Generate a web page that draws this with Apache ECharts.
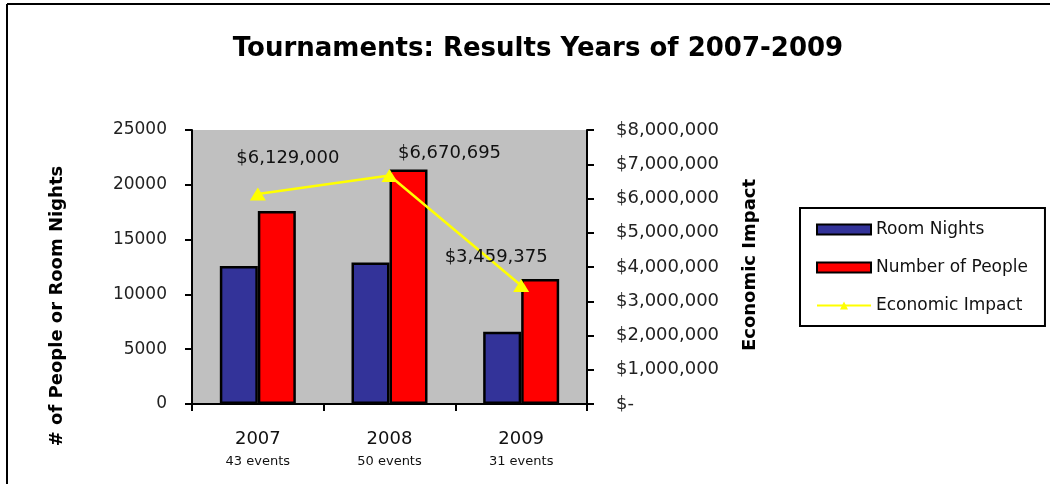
<!DOCTYPE html>
<html>
<head>
<meta charset="utf-8">
<script src="https://cdn.jsdelivr.net/npm/echarts@6/dist/echarts.min.js"></script>
<style>html,body{margin:0;padding:0;background:#fff;}#c{width:1052px;height:484px;}</style>
</head>
<body>
<div id="c"></div>
<script>
var categories = ['2007', '2008', '2009'];
var eventCounts = ['43 events', '50 events', '31 events'];
var roomNights = [12600, 12900, 6600];
var numberOfPeople = [17600, 21400, 11400];
var economicImpact = [6129000, 6670695, 3459375];
var leftTicks = [0, 5000, 10000, 15000, 20000, 25000];
var rightTicks = [0, 1000000, 2000000, 3000000, 4000000, 5000000, 6000000, 7000000, 8000000];
var labelOffsets = [[30, -36], [60, -22], [-25, -28]];

var FONT = 'DejaVu Sans';
function money(v) {
  if (v === 0) return '$-';
  var s = String(Math.round(v));
  return '$' + s.replace(/\B(?=(\d{3})+(?!\d))/g, ',');
}

var chart = echarts.init(document.getElementById('c'));
chart.setOption({
  animation: false,
  backgroundColor: '#ffffff',
  textStyle: { fontFamily: FONT },
  title: {
    text: 'Tournaments: Results Years of 2007-2009',
    left: 533, top: 31, textAlign: 'center',
    textStyle: { fontFamily: FONT, fontWeight: 'bold', fontSize: 26, color: '#000' }
  },
  grid: {
    left: 192, right: 465, top: 130, bottom: 80,
    show: true, backgroundColor: '#c0c0c0', borderWidth: 0
  },
  legend: {
    orient: 'vertical',
    left: 800, top: 208,
    padding: [13, 17, 12, 16],
    backgroundColor: '#fff',
    borderColor: '#000', borderWidth: 2, borderRadius: 0,
    itemWidth: 54, itemHeight: 10, itemGap: 21, itemTextGap: 4,
    textStyle: { fontFamily: FONT, fontSize: 17, color: '#111', lineHeight: 17 },
    data: [
      { name: 'Room Nights', icon: 'rect' },
      { name: 'Number of People', icon: 'rect' },
      { name: 'Economic Impact' }
    ]
  },
  xAxis: {
    type: 'category',
    data: categories,
    axisLine: { lineStyle: { color: '#000', width: 2 } },
    axisTick: { show: true, inside: false, length: 7, alignWithLabel: false, lineStyle: { color: '#000', width: 2 } },
    axisLabel: {
      margin: 22,
      formatter: function (v, i) { return '{a|' + v + '}\n{b|' + eventCounts[i] + '}'; },
      rich: {
        a: { fontFamily: FONT, fontSize: 18, color: '#111', lineHeight: 26 },
        b: { fontFamily: FONT, fontSize: 13, color: '#111', lineHeight: 20 }
      }
    },
    splitLine: { show: false }
  },
  yAxis: [
    {
      type: 'value', min: leftTicks[0], max: leftTicks[leftTicks.length - 1], interval: 5000,
      position: 'left',
      axisLine: { show: true, lineStyle: { color: '#000', width: 2 } },
      axisTick: { show: true, inside: false, length: 7, lineStyle: { color: '#000', width: 2 } },
      axisLabel: { margin: 25, fontFamily: FONT, fontSize: 17, color: '#222', formatter: function (v) { return String(v); } },
      splitLine: { show: false }
    },
    {
      type: 'value', min: rightTicks[0], max: rightTicks[rightTicks.length - 1], interval: 1000000,
      position: 'right',
      axisLine: { show: true, lineStyle: { color: '#000', width: 2 } },
      axisTick: { show: true, inside: false, length: 7, lineStyle: { color: '#000', width: 2 } },
      axisLabel: { margin: 29, fontFamily: FONT, fontSize: 18, color: '#222', formatter: money },
      splitLine: { show: false }
    }
  ],
  series: [
    {
      name: 'Room Nights', type: 'bar', data: roomNights,
      barWidth: 38, barGap: '0%',
      itemStyle: { color: '#333399', borderColor: '#000', borderWidth: 2.5 }
    },
    {
      name: 'Number of People', type: 'bar', data: numberOfPeople,
      barWidth: 38, barGap: '0%',
      itemStyle: { color: '#ff0000', borderColor: '#000', borderWidth: 2.5 }
    },
    {
      name: 'Economic Impact', type: 'line', yAxisIndex: 1,
      data: economicImpact.map(function (v, i) {
        return { value: v, label: { offset: labelOffsets[i] } };
      }),
      symbol: 'triangle', symbolSize: [16, 13],
      lineStyle: { color: '#ffff00', width: 2.5 },
      itemStyle: { color: '#ffff00' },
      label: {
        show: true, position: 'inside',
        fontFamily: FONT, fontSize: 18, color: '#111',
        formatter: function (p) { return money(p.value); }
      },
      z: 5
    }
  ],
  graphic: [
    { type: 'line', shape: { x1: 7, y1: 4, x2: 1050, y2: 4 }, style: { stroke: '#000', lineWidth: 2 } },
    { type: 'line', shape: { x1: 7, y1: 4, x2: 7, y2: 484 }, style: { stroke: '#000', lineWidth: 2 } },
    {
      type: 'text', x: 57, y: 306, rotation: Math.PI / 2,
      style: { text: '# of People or Room Nights', fontFamily: FONT, fontWeight: 'bold', fontSize: 18, fill: '#000', textAlign: 'center', textVerticalAlign: 'middle' }
    },
    {
      type: 'text', x: 750, y: 265, rotation: Math.PI / 2,
      style: { text: 'Economic Impact', fontFamily: FONT, fontWeight: 'bold', fontSize: 18, fill: '#000', textAlign: 'center', textVerticalAlign: 'middle' }
    }
  ]
});
</script>
</body>
</html>
